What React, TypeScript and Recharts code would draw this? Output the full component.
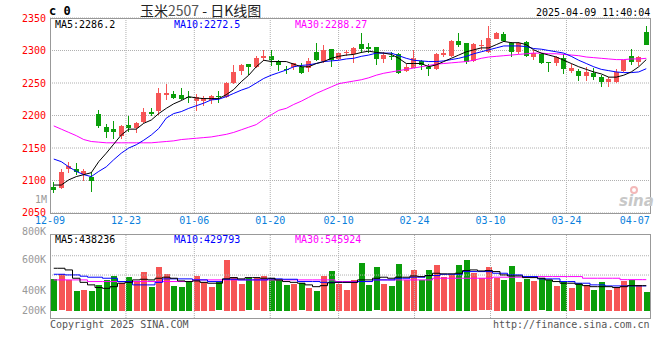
import { ComposedChart, Bar, Line, XAxis, YAxis, CartesianGrid, ReferenceLine } from "recharts";

// trading days 2024-12-09 .. 2025-04-09
const dates = [
  "12-09", "12-10", "12-11", "12-12", "12-13", "12-16", "12-17", "12-18", "12-19", "12-20",
  "12-23", "12-24", "12-25", "12-26", "12-27", "12-30", "12-31", "01-02", "01-03", "01-06",
  "01-07", "01-08", "01-09", "01-10", "01-13", "01-14", "01-15", "01-16", "01-17", "01-20",
  "01-21", "01-22", "01-23", "01-24", "01-27", "02-05", "02-06", "02-07", "02-10", "02-11",
  "02-12", "02-13", "02-14", "02-17", "02-18", "02-19", "02-20", "02-21", "02-24", "02-25",
  "02-26", "02-27", "02-28", "03-03", "03-04", "03-05", "03-06", "03-07", "03-10", "03-11",
  "03-12", "03-13", "03-14", "03-17", "03-18", "03-19", "03-20", "03-21", "03-24", "03-25",
  "03-26", "03-27", "03-28", "03-31", "04-01", "04-02", "04-03", "04-07", "04-08", "04-09",
];

const opens = [
  2090, 2089, 2117, 2118, 2110, 2105, 2202, 2182, 2179, 2169,
  2185, 2181, 2190, 2205, 2207, 2232, 2233, 2232, 2229, 2223,
  2223, 2224, 2230, 2228, 2250, 2269, 2279, 2274, 2288, 2291,
  2284, 2272, 2274, 2275, 2273, 2297, 2284, 2302, 2287, 2296,
  2294, 2310, 2305, 2305, 2287, 2292, 2294, 2269, 2273, 2284,
  2275, 2272, 2293, 2292, 2315, 2311, 2284, 2307, 2297, 2318,
  2325, 2311, 2298, 2313, 2290, 2294, 2283, 2280, 2289, 2269,
  2269, 2261, 2265, 2259, 2251, 2252, 2269, 2291, 2283, 2329,
];
const highs = [
  2098, 2117, 2129, 2127, 2118, 2113, 2209, 2187, 2192, 2186,
  2199, 2190, 2211, 2211, 2243, 2249, 2237, 2243, 2237, 2233,
  2230, 2231, 2237, 2251, 2278, 2279, 2279, 2292, 2300, 2300,
  2285, 2276, 2281, 2280, 2288, 2311, 2309, 2303, 2298, 2300,
  2306, 2327, 2312, 2306, 2298, 2298, 2296, 2279, 2300, 2286,
  2279, 2296, 2302, 2316, 2327, 2311, 2311, 2316, 2337, 2329,
  2328, 2313, 2313, 2314, 2300, 2296, 2283, 2292, 2294, 2279,
  2272, 2275, 2273, 2262, 2260, 2272, 2286, 2303, 2292, 2337,
];
const lows = [
  2081, 2087, 2112, 2108, 2099, 2082, 2182, 2165, 2165, 2164,
  2175, 2173, 2188, 2198, 2201, 2224, 2224, 2224, 2219, 2207,
  2215, 2217, 2218, 2227, 2249, 2262, 2262, 2273, 2283, 2276,
  2268, 2263, 2271, 2263, 2266, 2283, 2281, 2275, 2285, 2290,
  2282, 2296, 2296, 2279, 2281, 2285, 2264, 2266, 2272, 2271,
  2261, 2270, 2289, 2290, 2306, 2279, 2281, 2300, 2296, 2318,
  2313, 2290, 2295, 2290, 2285, 2279, 2267, 2277, 2263, 2265,
  2253, 2253, 2255, 2243, 2244, 2250, 2268, 2278, 2277, 2307,
];
const closes = [
  2085, 2113, 2123, 2113, 2115, 2100, 2184, 2174, 2175, 2184,
  2181, 2189, 2205, 2202, 2234, 2234, 2227, 2226, 2227, 2229,
  2227, 2230, 2228, 2250, 2267, 2278, 2274, 2289, 2292, 2286,
  2277, 2270, 2280, 2266, 2284, 2285, 2301, 2286, 2296, 2298,
  2304, 2302, 2303, 2287, 2293, 2290, 2266, 2275, 2288, 2278,
  2271, 2294, 2296, 2315, 2309, 2283, 2310, 2309, 2319, 2327,
  2315, 2298, 2311, 2291, 2296, 2281, 2281, 2290, 2272, 2273,
  2261, 2267, 2260, 2251, 2256, 2267, 2285, 2283, 2290, 2309,
];

const ma5 = [
  2093, 2093, 2101, 2106, 2109, 2112, 2129, 2142, 2156, 2170,
  2179, 2179, 2188, 2193, 2203, 2211, 2218, 2223, 2229, 2227,
  2226, 2226, 2226, 2232, 2240, 2252, 2262, 2275, 2285, 2283,
  2283, 2283, 2279, 2275, 2275, 2280, 2283, 2288, 2291, 2293,
  2294, 2297, 2299, 2297, 2296, 2294, 2288, 2280, 2280, 2280,
  2275, 2278, 2283, 2288, 2293, 2298, 2301, 2304, 2304, 2309,
  2314, 2312, 2312, 2309, 2301, 2296, 2293, 2290, 2285, 2280,
  2275, 2271, 2267, 2264, 2259, 2259, 2262, 2267, 2275, 2286,
];
const ma10 = [
  2133, 2129, 2121, 2114, 2109, 2106, 2114, 2121, 2132, 2142,
  2150, 2155, 2162, 2170, 2180, 2196, 2203, 2206, 2211, 2215,
  2219, 2224, 2225, 2229, 2234, 2239, 2243, 2250, 2257, 2262,
  2266, 2270, 2275, 2277, 2278, 2280, 2283, 2284, 2285, 2287,
  2288, 2291, 2293, 2296, 2296, 2296, 2292, 2288, 2285, 2284,
  2283, 2283, 2284, 2286, 2288, 2291, 2295, 2298, 2301, 2304,
  2307, 2307, 2307, 2306, 2303, 2302, 2300, 2298, 2296, 2291,
  2285, 2280, 2275, 2271, 2269, 2267, 2266, 2266, 2267, 2272,
];
const ma30 = [
  2184, 2179, 2174, 2169, 2163, 2160, 2159, 2158, 2158, 2158,
  2158, 2158, 2158, 2158, 2159, 2160, 2161, 2163, 2164, 2165,
  2166, 2167, 2169, 2171, 2174, 2178, 2182, 2186, 2194, 2201,
  2208, 2211, 2217, 2222, 2228, 2234, 2239, 2244, 2249, 2251,
  2253, 2255, 2258, 2262, 2265, 2267, 2269, 2271, 2273, 2275,
  2277, 2279, 2280, 2281, 2282, 2283, 2285, 2288, 2290, 2291,
  2292, 2293, 2294, 2295, 2296, 2296, 2295, 2295, 2294, 2293,
  2292, 2290, 2289, 2288, 2287, 2286, 2286, 2287, 2287, 2288,
];

// volume, in thousands of lots
const vols = [
  449, 485, 441, 354, 362, 354, 402, 441, 472, 420,
  464, 433, 504, 388, 543, 488, 394, 386, 428, 472,
  428, 386, 422, 600, 464, 409, 454, 454, 472, 459,
  441, 402, 412, 415, 381, 357, 472, 514, 409, 362,
  441, 577, 402, 538, 409, 394, 566, 441, 519, 441,
  519, 559, 467, 480, 559, 598, 498, 454, 538, 459,
  441, 551, 428, 449, 433, 454, 441, 394, 428, 381,
  415, 402, 362, 428, 362, 388, 433, 441, 402, 349,
];
const volMa5 = [
  532, 532, 519, 454, 422, 402, 381, 375, 388, 415,
  422, 441, 446, 441, 454, 462, 454, 433, 428, 433,
  422, 415, 415, 449, 459, 449, 459, 459, 454, 454,
  441, 428, 422, 415, 402, 388, 396, 418, 422, 422,
  422, 441, 441, 454, 462, 454, 462, 462, 472, 467,
  475, 493, 488, 488, 493, 514, 519, 511, 514, 506,
  480, 472, 472, 459, 459, 454, 441, 428, 415, 415,
  407, 396, 388, 388, 388, 381, 388, 396, 396, 396,
];
const volMa10 = [
  485, 485, 480, 480, 470, 462, 462, 454, 454, 428,
  428, 402, 402, 402, 422, 449, 449, 449, 449, 441,
  441, 428, 428, 446, 446, 441, 441, 441, 441, 449,
  449, 446, 446, 428, 428, 428, 422, 422, 422, 422,
  422, 428, 428, 441, 441, 441, 454, 454, 462, 462,
  475, 475, 485, 485, 485, 506, 506, 506, 506, 493,
  493, 480, 480, 467, 467, 449, 449, 449, 428, 428,
  415, 415, 402, 402, 394, 394, 394, 394, 394, 394,
];
const volMa30 = [
  441, 441, 441, 441, 441, 428, 428, 428, 428, 428,
  428, 428, 428, 428, 428, 428, 428, 428, 428, 441,
  441, 441, 441, 441, 441, 441, 441, 441, 441, 441,
  441, 441, 441, 441, 441, 441, 441, 441, 428, 428,
  428, 428, 428, 441, 441, 441, 441, 441, 441, 441,
  441, 454, 454, 454, 454, 454, 454, 454, 454, 462,
  462, 462, 462, 462, 462, 467, 467, 467, 467, 467,
  467, 454, 454, 454, 454, 454, 443, 443, 443, 443,
];

const tickDates = ["12-09", "12-23", "01-06", "01-20", "02-10", "02-24", "03-10", "03-24", "04-07"];
const priceTicks = [2050, 2100, 2150, 2200, 2250, 2300, 2350];
const volTicks = [200, 400, 600, 800];

const MONO = "'DejaVu Sans Mono', 'Liberation Mono', monospace";
const CJK = "'Noto Sans CJK SC', 'Noto Sans', sans-serif";
const RED = "#f65555";
const GREEN = "#0a9e0a";
const GRID = "#b0b0b0";
const FRAME = "#999";
const VOL_BASE = 200;

const rows = dates.map((date, i) => ({
  i,
  date,
  open: opens[i],
  high: highs[i],
  low: lows[i],
  close: closes[i],
  hl: [lows[i], highs[i]],
  ma5: ma5[i],
  ma10: ma10[i],
  ma30: ma30[i],
  vr: [VOL_BASE, vols[i]],
  vma5: volMa5[i],
  vma10: volMa10[i],
  vma30: volMa30[i],
}));

const tickIdx = tickDates.map((d) => dates.indexOf(d));
const gridIdx = tickIdx.slice(1, -1);

function Candle(p: any) {
  const { x, y, width, height, payload } = p;
  if (x == null || payload == null) return null;
  const { open, close, high, low } = payload;
  const k = high === low ? 0 : height / (high - low);
  const yOf = (v: number) => y + (high - v) * k;
  const cx = Math.floor(x + width / 2);
  const top = Math.round(yOf(Math.max(open, close)));
  const bot = Math.round(yOf(Math.min(open, close)));
  const color = close >= open ? RED : GREEN;
  return (
    <g>
      <rect x={cx} y={Math.round(y)} width={1} height={Math.max(Math.round(height), 1)} fill={color} />
      <rect x={cx - 2} y={top} width={5} height={Math.max(bot - top, 1)} fill={color} />
    </g>
  );
}

function VolBar(p: any) {
  const { x, y, width, height, payload } = p;
  if (x == null || payload == null) return null;
  const cx = Math.floor(x + width / 2);
  const color = payload.close >= payload.open ? RED : GREEN;
  return <rect x={cx - 2} y={Math.round(y)} width={6} height={Math.round(height)} fill={color} />;
}

function PriceTick(p: any) {
  const v = p.payload.value;
  const shift = v === 2050 ? -1 : 0;
  return (
    <text x={p.x} y={p.y + shift} dy="0.355em" textAnchor="end" fill="#f00" fontSize={10} fontFamily={MONO}>
      {v}
    </text>
  );
}

function VolTick(p: any) {
  const v = p.payload.value;
  const shift = v === 800 ? -3 : v === 400 ? 5 : 0;
  return (
    <text x={p.x} y={p.y + shift} dy="0.355em" textAnchor="end" fill="#999" fontSize={10} fontFamily={MONO}>
      {v}K
    </text>
  );
}

function Txt({ x, y, color = "#000", size = 10, bold = false, font = MONO, children }: any) {
  const h = size + 1;
  return (
    <div
      style={{
        position: "absolute",
        left: x,
        top: y - h / 2,
        height: h,
        lineHeight: `${h}px`,
        fontSize: size,
        color,
        fontFamily: font,
        fontWeight: bold ? "bold" : "normal",
        whiteSpace: "pre",
      }}
    >
      {children}
    </div>
  );
}

function Frame({ top, bottom }: { top: number; bottom: number }) {
  return (
    <div
      style={{
        position: "absolute",
        left: 50,
        top,
        width: 601,
        height: bottom - top + 1,
        boxSizing: "border-box",
        border: `1px solid ${FRAME}`,
        pointerEvents: "none",
      }}
    />
  );
}

export default function App() {
  return (
    <div style={{ position: "absolute", left: 0, top: 0, width: 660, height: 360, background: "#fff", overflow: "hidden" }}>
      <div style={{ position: "absolute", left: 0, top: 0 }}>
        <ComposedChart width={660} height={360} data={rows} margin={{ top: 18, right: 10, bottom: 127, left: 2 }}>
          <CartesianGrid vertical={false} stroke={GRID} strokeDasharray="1 1" />
          <XAxis
            xAxisId="pos"
            dataKey="i"
            type="number"
            domain={[0, 79]}
            ticks={tickIdx}
            interval={0}
            height={20}
            tickFormatter={(v: number) => dates[v]}
            tick={{ fill: "#0a7fdc", fontSize: 10, fontFamily: MONO }}
            tickLine={false}
            axisLine={false}
            tickSize={0}
            tickMargin={4}
          />
          <XAxis xAxisId="band" dataKey="date" type="category" hide height={0} />
          <YAxis
            domain={[2050, 2350]}
            ticks={priceTicks}
            interval={0}
            allowDataOverflow
            width={48}
            tick={PriceTick}
            tickLine={false}
            axisLine={false}
            tickSize={0}
            tickMargin={4}
          />
          {gridIdx.map((g) => (
            <ReferenceLine key={g} xAxisId="pos" x={g} stroke={GRID} strokeDasharray="1 1" />
          ))}
          <Bar xAxisId="band" dataKey="hl" shape={Candle} isAnimationActive={false} />
          <Line xAxisId="band" dataKey="ma30" stroke="#ff00ff" strokeWidth={1} dot={false} isAnimationActive={false} />
          <Line xAxisId="band" dataKey="ma10" stroke="#0000ff" strokeWidth={1} dot={false} isAnimationActive={false} />
          <Line xAxisId="band" dataKey="ma5" stroke="#000" strokeWidth={1} dot={false} isAnimationActive={false} />
        </ComposedChart>
      </div>

      <div style={{ position: "absolute", left: 0, top: 0 }}>
        <ComposedChart width={660} height={360} data={rows} margin={{ top: 234, right: 10, bottom: 42, left: 2 }}>
          <XAxis xAxisId="band" dataKey="date" type="category" hide height={0} />
          <XAxis xAxisId="pos" dataKey="i" type="number" domain={[0, 79]} hide height={0} />
          <YAxis
            domain={[143, 800]}
            ticks={volTicks}
            interval={0}
            allowDataOverflow
            width={48}
            tick={VolTick}
            tickLine={false}
            axisLine={false}
            tickSize={0}
            tickMargin={4}
          />
          <ReferenceLine y={630} stroke={GRID} strokeDasharray="1 1" />
          <ReferenceLine y={479} stroke={GRID} strokeDasharray="1 1" />
          {gridIdx.map((g) => (
            <ReferenceLine key={g} xAxisId="pos" x={g} stroke={GRID} strokeDasharray="1 1" />
          ))}
          <Bar xAxisId="band" dataKey="vr" shape={VolBar} isAnimationActive={false} />
          <Line xAxisId="band" type="step" dataKey="vma30" stroke="#ff00ff" strokeWidth={1} dot={false} isAnimationActive={false} />
          <Line xAxisId="band" type="step" dataKey="vma10" stroke="#0000ff" strokeWidth={1} dot={false} isAnimationActive={false} />
          <Line xAxisId="band" type="step" dataKey="vma5" stroke="#000" strokeWidth={1} dot={false} isAnimationActive={false} />
        </ComposedChart>
      </div>

      <Frame top={18} bottom={213} />
      <Frame top={234} bottom={318} />

      <Txt x={49} y={11} size={12} bold>c 0</Txt>
      <Txt x={140} y={10} size={14} font={CJK} color="#222">
        玉米<span style={{ color: "#555" }}>2507</span> - 日K线图
      </Txt>
      <Txt x={536} y={12}>2025-04-09 11:40:04</Txt>

      <Txt x={55} y={24}>MA5:2286.2</Txt>
      <Txt x={174} y={24} color="#00f">MA10:2272.5</Txt>
      <Txt x={295} y={24} color="#f0f">MA30:2288.27</Txt>

      <Txt x={35} y={199} color="#999">1M</Txt>

      <Txt x={55} y={239}>MA5:438236</Txt>
      <Txt x={174} y={239} color="#00f">MA10:429793</Txt>
      <Txt x={295} y={239} color="#f0f">MA30:545924</Txt>

      <Txt x={50} y={324} color="#555">Copyright 2025 SINA.COM</Txt>
      <Txt x={493} y={324} color="#555">http://finance.sina.com.cn</Txt>

      <div
        style={{
          position: "absolute",
          left: 630,
          top: 186,
          width: 8,
          height: 8,
          borderRadius: "50%",
          border: "2px solid #f3b8b8",
          boxSizing: "border-box",
        }}
      />
      <Txt x={619} y={201} size={15} bold color="#c8c8c8" font="'DejaVu Sans', sans-serif">
        <i>sina</i>
      </Txt>
    </div>
  );
}
